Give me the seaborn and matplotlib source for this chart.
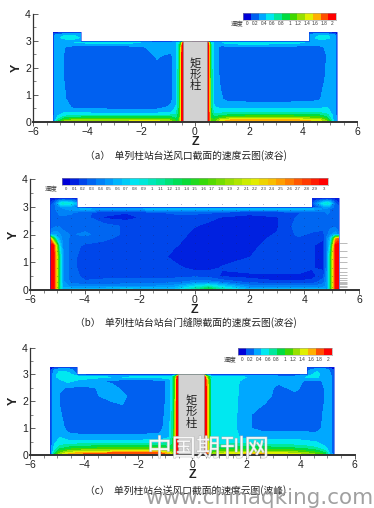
import numpy as np
import matplotlib
matplotlib.use("Agg")
import matplotlib.pyplot as plt
from matplotlib.colors import ListedColormap, BoundaryNorm
from matplotlib.patches import Polygon, Rectangle
import matplotlib.patheffects as pe
import seaborn as sns

# ---------- data ----------
band_colors = ["#0000d8","#0060f0","#00a8ff","#00e8f0","#00e89c","#00dc40",
               "#40d800","#98e000","#e0f000","#ffb000","#ff5000","#ff0000"]
labels_ac = ["0","0.2","0.4","0.6","0.8","1","1.2","1.4","1.6","1.8","2"]
labels_b = ["0","0.1","0.2","0.3","0.4","0.5","0.6","0.7","0.8","0.9","1","1.1","1.2","1.3","1.4","1.5",
            "1.6","1.7","1.8","1.9","2","2.1","2.2","2.3","2.4","2.5","2.6","2.7","2.8","2.9","3"]
captions = ["（a）  单列柱站台送风口截面的速度云图(波谷)",
            "（b）  单列柱站台站台门缝隙截面的速度云图(波谷)",
            "（c）  单列柱站台送风口截面的速度云图(波峰)"]

z_a = [-5.25,-5.1,-4.85,-4.5,-3,-2,-1.4,-.9,-.7,-.58,-.5,-.45,.45,.5,.58,.7,.95,1.2,2,3.5,4.6,4.9,5.1,5.25]
y_a = [0,.06,.14,.25,.38,.55,.85,1.6,2.45,2.78,2.92,3.0,3.1,3.2,3.3]
v_a = [
 [.3,.85,1.25,1.35,1.35,1.4,1.4,1.3,1.0,1.1,1.7,2.3,2.3,1.9,1.1,1.1,1.3,1.45,1.5,1.5,1.4,1.15,.6,.3],
 [.3,.7,1.1,1.25,1.3,1.32,1.32,1.2,.95,1.05,1.6,2.3,2.3,1.9,1.05,1.05,1.4,1.55,1.62,1.62,1.45,1.1,.55,.3],
 [.3,.55,.85,.95,1.0,1.02,1.02,.98,.8,1.0,1.6,2.3,2.3,1.9,1.0,.9,1.1,1.2,1.28,1.28,1.15,.9,.5,.3],
 [.3,.47,.58,.65,.65,.65,.66,.68,.7,.95,1.6,2.3,2.3,1.9,.95,.75,.8,.85,.92,.92,.85,.72,.48,.3],
 [.3,.45,.47,.42,.4,.39,.4,.47,.6,.9,1.6,2.3,2.3,1.9,.9,.6,.58,.6,.64,.64,.62,.55,.46,.3],
 [.3,.45,.42,.3,.28,.28,.28,.36,.52,.85,1.6,2.3,2.3,1.9,.85,.52,.45,.45,.45,.45,.45,.5,.46,.3],
 [.3,.46,.35,.27,.25,.25,.25,.28,.45,.85,1.6,2.3,2.3,1.9,.85,.45,.36,.28,.26,.26,.3,.48,.48,.3],
 [.3,.42,.33,.26,.25,.25,.25,.27,.45,.85,1.6,2.3,2.3,1.9,.85,.45,.3,.26,.25,.25,.27,.36,.48,.3],
 [.3,.4,.33,.26,.25,.26,.35,.3,.42,.8,1.6,2.3,2.3,1.9,.8,.42,.28,.26,.25,.25,.27,.34,.42,.3],
 [.3,.4,.34,.29,.28,.31,.42,.42,.45,.75,1.5,2.3,2.3,1.9,.75,.42,.3,.3,.3,.3,.3,.36,.42,.3],
 [.3,.4,.42,.5,.55,.5,.42,.42,.48,.65,1.1,1.8,2.2,1.6,.65,.48,.48,.55,.65,.55,.45,.42,.42,.3],
 [.3,.4,.42,.45,.15,.15,.15,.15,.2,.3,.5,.8,1.5,.8,.3,.2,.15,.15,.15,.15,.45,.42,.42,.3],
 [.3,.45,.55,.55,.2,.2,.2,.2,.2,.2,.2,.2,.2,.2,.2,.2,.2,.2,.2,.2,.55,.55,.45,.3],
 [.25,.42,.5,.5,.2,.2,.2,.2,.2,.2,.2,.2,.2,.2,.2,.2,.2,.2,.2,.2,.5,.5,.42,.25],
 [.05,.1,.18,.25,.2,.2,.2,.2,.2,.2,.2,.2,.2,.2,.2,.2,.2,.2,.2,.2,.25,.18,.08,.03],
]

z_b = [-5.28,-5.15,-5.03,-4.92,-4.8,-4.5,-4,-3.3,-2.5,-1.5,-.7,0,.5,1,2,3,3.8,4.3,4.7,4.85,4.95,5.05,5.15,5.28]
y_b = [0,.06,.15,.3,.5,.8,1.2,1.6,1.85,2.0,2.3,2.6,2.8,2.92,3.0,3.12,3.22,3.32]
v_b = [
 [3,3,2.2,1.1,.6,.7,.7,.7,.75,.7,.7,1.1,1.45,1.1,.7,.7,.7,.7,.7,.6,1.2,2.2,3,3],
 [3,3,2.2,1.1,.6,.6,.6,.6,.65,.6,.65,1.0,1.3,.95,.55,.55,.55,.55,.55,.55,1.2,2.2,3,3],
 [3,3,2.2,1.1,.55,.45,.42,.42,.45,.47,.52,.75,.9,.7,.42,.38,.38,.38,.42,.55,1.2,2.2,3,3],
 [3,3,2.2,1.1,.5,.35,.3,.32,.32,.32,.35,.42,.42,.35,.25,.2,.2,.22,.35,.55,1.2,2.2,3,3],
 [3,3,2.2,1.1,.5,.34,.26,.26,.26,.26,.26,.27,.25,.18,.16,.16,.16,.16,.26,.55,1.2,2.2,3,3],
 [3,3,2.2,1.1,.5,.32,.25,.25,.25,.25,.22,.16,.16,.2,.25,.27,.27,.2,.16,.5,1.2,2.2,3,3],
 [3,3,2.2,1.1,.5,.32,.25,.25,.25,.25,.16,.15,.15,.16,.19,.27,.27,.2,.16,.5,1.2,2.2,3,3],
 [3,3,1.9,.8,.48,.34,.27,.25,.25,.25,.2,.15,.15,.15,.16,.25,.27,.2,.16,.5,.8,2.0,3,3],
 [2.6,1.5,.8,.55,.45,.36,.36,.31,.25,.25,.23,.15,.15,.15,.15,.22,.27,.22,.2,.45,.65,1.3,2.4,2.7],
 [.5,.55,.55,.5,.42,.38,.4,.36,.26,.25,.25,.16,.15,.15,.15,.2,.31,.27,.27,.38,.45,.5,.55,.4],
 [.3,.34,.38,.38,.36,.36,.36,.34,.27,.25,.25,.2,.16,.15,.15,.18,.34,.34,.31,.34,.36,.36,.36,.3],
 [.3,.34,.38,.38,.38,.36,.34,.18,.16,.23,.25,.25,.23,.18,.15,.18,.31,.31,.32,.36,.36,.36,.34,.3],
 [.3,.34,.38,.4,.4,.4,.32,.23,.2,.28,.31,.31,.31,.27,.23,.25,.28,.31,.36,.4,.38,.36,.34,.3],
 [.3,.36,.4,.42,.45,.55,.6,.55,.55,.6,.66,.66,.64,.64,.6,.6,.6,.6,.46,.42,.38,.36,.34,.3],
 [.3,.34,.4,.48,.58,.52,.12,.12,.12,.12,.12,.12,.12,.12,.12,.12,.12,.12,.52,.58,.48,.4,.34,.3],
 [.2,.3,.5,.8,.95,.85,.3,.3,.3,.3,.3,.3,.3,.3,.3,.3,.3,.3,.85,.95,.8,.5,.3,.2],
 [.15,.2,.3,.45,.5,.45,.2,.2,.2,.2,.2,.2,.2,.2,.2,.2,.2,.2,.45,.5,.45,.3,.2,.15],
 [0,0,.05,.05,.05,.05,.05,.05,.05,.05,.05,.05,.05,.05,.05,.05,.05,.05,.05,.05,.05,.05,0,0],
]

z_c = [-5.25,-5.1,-4.9,-4.6,-4.2,-3.6,-3.0,-2.6,-2,-1.2,-.85,-.72,-.62,-.54,.45,.55,.7,1,1.5,2,2.6,3.2,3.8,4.2,4.6,4.9,5.1,5.25]
y_c = [0,.06,.14,.25,.4,.65,1,1.5,1.9,2.2,2.5,2.75,2.9,3.0,3.15,3.28]
v_c = [
 [.2,.9,1.3,1.55,1.7,1.8,1.85,1.85,1.85,1.85,1.6,1.3,1.4,2.2,2.2,1.7,1.25,1.4,1.5,1.55,1.55,1.5,1.45,1.35,1.2,1.0,.5,.2],
 [.2,.8,1.2,1.45,1.6,1.7,1.75,1.8,1.8,1.8,1.5,1.25,1.35,2.2,2.2,1.65,1.15,1.35,1.45,1.48,1.48,1.42,1.35,1.25,1.1,.9,.45,.2],
 [.2,.65,1.0,1.2,1.28,1.32,1.36,1.4,1.4,1.4,1.2,1.05,1.3,2.2,2.2,1.6,.95,1.1,1.15,1.18,1.18,1.15,1.1,1.02,.92,.72,.42,.2],
 [.2,.55,.78,.9,1.0,1.02,1.05,1.05,1.05,1.05,.95,.95,1.3,2.2,2.2,1.6,.8,.85,.9,.92,.92,.9,.85,.8,.7,.55,.4,.2],
 [.2,.5,.62,.66,.68,.7,.7,.72,.72,.72,.72,.85,1.3,2.2,2.2,1.6,.68,.66,.68,.68,.68,.66,.62,.58,.54,.46,.4,.2],
 [.2,.45,.5,.4,.38,.37,.37,.37,.37,.38,.5,.78,1.3,2.2,2.2,1.6,.62,.6,.54,.46,.45,.45,.45,.44,.42,.42,.38,.2],
 [.2,.44,.42,.27,.25,.25,.25,.25,.25,.28,.45,.75,1.3,2.2,2.2,1.6,.58,.58,.55,.36,.27,.26,.26,.26,.27,.38,.4,.2],
 [.2,.46,.35,.27,.25,.25,.25,.25,.25,.26,.42,.75,1.3,2.2,2.2,1.6,.6,.6,.56,.36,.27,.25,.25,.25,.26,.36,.38,.2],
 [.2,.4,.33,.27,.26,.25,.3,.34,.25,.25,.4,.72,1.3,2.2,2.2,1.6,.6,.62,.56,.4,.34,.28,.25,.25,.26,.34,.38,.2],
 [.2,.4,.33,.27,.28,.31,.4,.37,.25,.25,.4,.7,1.25,2.2,2.2,1.6,.6,.62,.55,.42,.4,.28,.3,.26,.26,.34,.38,.2],
 [.2,.4,.34,.33,.3,.33,.4,.3,.25,.25,.38,.68,1.25,2.2,2.2,1.6,.6,.62,.55,.42,.4,.3,.37,.28,.26,.34,.38,.2],
 [.2,.4,.42,.55,.45,.38,.3,.26,.25,.26,.38,.65,1.2,2.2,2.2,1.5,.6,.62,.55,.45,.42,.36,.4,.31,.28,.36,.38,.2],
 [.2,.42,.6,.65,.6,.55,.5,.5,.52,.55,.6,.68,1.1,2.0,2.0,1.2,.65,.62,.58,.5,.5,.45,.45,.5,.52,.42,.38,.2],
 [.2,.42,.6,.6,.3,.2,.15,.15,.15,.15,.15,.2,.5,1.0,1.0,.5,.2,.15,.15,.15,.15,.15,.15,.4,.55,.42,.36,.2],
 [.15,.36,.48,.42,.25,.2,.2,.2,.2,.2,.2,.2,.2,.2,.2,.2,.2,.2,.2,.2,.2,.2,.2,.25,.48,.5,.3,.15],
 [.03,.08,.2,.25,.2,.2,.2,.2,.2,.2,.2,.2,.2,.2,.2,.2,.2,.2,.2,.2,.2,.2,.2,.2,.25,.18,.06,.02],
]

dot_z = [-5,-4.5,-4,-3.5,-3,-2.5,-2,-1.5,-1,-.5,0,.5,1,1.5,2,2.5,3,3.5,4,4.5,5]
dot_y = [.1,.3,.5,.8,1.1,1.4,1.7,2,2.3,2.6,2.9,3.1]
right_tick_y = [.05,.1,.15,.2,.25,.3,.35,.45,.55,.65,.8,1.0,1.2,1.4,1.7]

domain_a = [(-5.25,0),(-5.25,3.3),(-4.23,3.3),(-4.23,3.0),(4.23,3.0),(4.23,3.3),(5.25,3.3),(5.25,0)]
domain_b = [(-5.28,0),(-5.28,3.32),(-4.27,3.32),(-4.27,3.0),(4.27,3.0),(4.27,3.32),(5.27,3.32),(5.27,0)]
domain_c = [(-5.26,0),(-5.26,3.28),(-4.27,3.28),(-4.27,3.0),(4.23,3.0),(4.23,3.28),(5.25,3.28),(5.25,0)]

# ---------- drawing ----------
sns.set_style("ticks")
plt.rcParams["font.family"] = ["Liberation Sans", "Noto Sans CJK SC", "DejaVu Sans"]
W, H = 374, 508
fig = plt.figure(figsize=(W/100, H/100), dpi=100, facecolor="white")
CJK = ["Noto Sans CJK SC", "DejaVu Sans"]

def rect(l, t, r, b):
    return [l/W, 1-b/H, (r-l)/W, (b-t)/H]

def panel(box, z, y, v, domain, colors, vmax, column=None, name_y=1.75):
    ax = fig.add_axes(rect(*box))
    levels = np.linspace(0, vmax, len(colors)+1)
    cmap = ListedColormap(colors)
    norm = BoundaryNorm(levels, cmap.N, clip=True)
    cs = ax.contourf(z, y, np.array(v), levels=levels, cmap=cmap, norm=norm, extend="both", zorder=1)
    poly = Polygon(domain, closed=True, transform=ax.transData, fc="none", ec="none")
    ax.add_patch(poly)
    cs.set_clip_path(poly)
    ax.add_patch(Polygon(domain, closed=True, fc="none", ec="#1030e0", lw=.4, zorder=2))
    if column:
        ax.add_patch(Rectangle((column[0], 0), column[1]-column[0], 3.0, fc="#d2d2d2", ec="#888888", lw=.4, zorder=3))
        ax.text(sum(column)/2, name_y, "矩\n形\n柱", ha="center", va="center", fontsize=8.2, family=CJK,
                linespacing=1.05, color="#222222", zorder=4)
    ax.set_xlim(-6, 6); ax.set_ylim(0, 4)
    ax.set_xticks(range(-6, 7, 2)); ax.set_yticks(range(0, 5))
    ax.set_xticks(np.arange(-6, 6.01, .5), minor=True)
    ax.set_yticks(np.arange(0, 4.01, .5), minor=True)
    ax.patch.set_alpha(0)
    for s in ("top", "right"):
        ax.spines[s].set_visible(False)
    ax.spines["left"].set_linewidth(.9); ax.spines["bottom"].set_linewidth(1.4)
    ax.spines["left"].set_color("#333333"); ax.spines["bottom"].set_color("#333333")
    ax.spines["bottom"].set_zorder(6)
    ax.tick_params(axis="x", which="major", direction="out", length=3, width=.6, pad=.6, labelsize=7.5, color="#444444", labelcolor="#222222")
    ax.tick_params(axis="x", which="minor", direction="out", length=2, width=.5, color="#555555")
    ax.tick_params(axis="y", which="major", direction="in", length=3.5, width=.6, pad=1.5, labelsize=7.5, color="#444444", labelcolor="#222222")
    ax.tick_params(axis="y", which="minor", direction="in", length=2, width=.5, color="#555555")
    ax.set_xlabel("Z", fontsize=9, fontweight="bold", labelpad=-.6, color="#222222")
    ax.set_ylabel("Y", fontsize=9, fontweight="bold", labelpad=1.5, color="#222222")
    return ax

def legend(box, colors, labels, title, title_x, label_y, tsize, fsize):
    lax = fig.add_axes(rect(*box))
    n = len(colors)
    sns.heatmap(np.arange(n)[None, :], cmap=ListedColormap(colors), cbar=False, ax=lax,
                xticklabels=False, yticklabels=False)
    lax.set_xticks(np.linspace(.5, n-.5, len(labels)))
    lax.set_xticklabels(labels, fontsize=fsize, color="#333333", rotation=0)
    lax.tick_params(axis="x", length=0, pad=1.2)
    lax.tick_params(axis="y", length=0)
    for s in lax.spines.values():
        s.set_visible(True); s.set_linewidth(.4); s.set_color("#999999")
    fig.text(title_x/W, 1-label_y/H, title, fontsize=tsize, family=CJK, ha="left", va="center", color="#333333")

pal_b = [tuple(c) for c in sns.blend_palette(band_colors, n_colors=31)]

panel((33, 13.5, 357, 122), z_a, y_a, v_a, domain_a, band_colors, 2, (-.45, .45), 1.74)
ax_b = panel((30, 179, 359, 290), z_b, y_b, v_b, domain_b, pal_b, 3)
panel((30, 347.5, 354.5, 455), z_c, y_c, v_c, domain_c, band_colors, 2, (-.54, .45), 1.6)

# seed dots and wall ticks of panel (b)
dz, dy = np.meshgrid(dot_z, dot_y)
ax_b.scatter(dz.ravel(), dy.ravel(), s=.25, c="#202060", alpha=.45, linewidths=0, zorder=5, clip_on=True)
ax_b.hlines(right_tick_y, 5.27, 5.55, color="#888888", lw=.4, zorder=5)

legend((243, 12.5, 336, 19.5), band_colors, labels_ac, "速度", 231, 24, 4.6, 3.4)
legend((61.7, 177.5, 328, 185), pal_b, labels_b, "速度", 44.5, 189.5, 4.6, 3.1)
legend((238, 347.7, 331.7, 355), band_colors, labels_ac, "速度", 224, 360, 4.6, 3.4)

for cap, cx, cy in zip(captions, (186, 186, 186), (156, 323, 491)):
    fig.text(cx/W, 1-cy/H, cap, ha="center", va="center", fontsize=7.05, family=CJK, color="#222222")

# site watermarks
fig.text(208/W, 1-449/H, "中国期刊网", ha="center", va="center", fontsize=17.5, family=CJK, color="#ffffff", alpha=.8,
         path_effects=[pe.withStroke(linewidth=.8, foreground="#b4b4b4")], zorder=20)
fig.text(259/W, 1-498/H, "www.chinaqking.com", ha="center", va="center", fontsize=15.5, family=["DejaVu Sans"],
         color="#969696", alpha=.9, zorder=20)

fig.savefig("out.png", dpi=100, facecolor="white")
